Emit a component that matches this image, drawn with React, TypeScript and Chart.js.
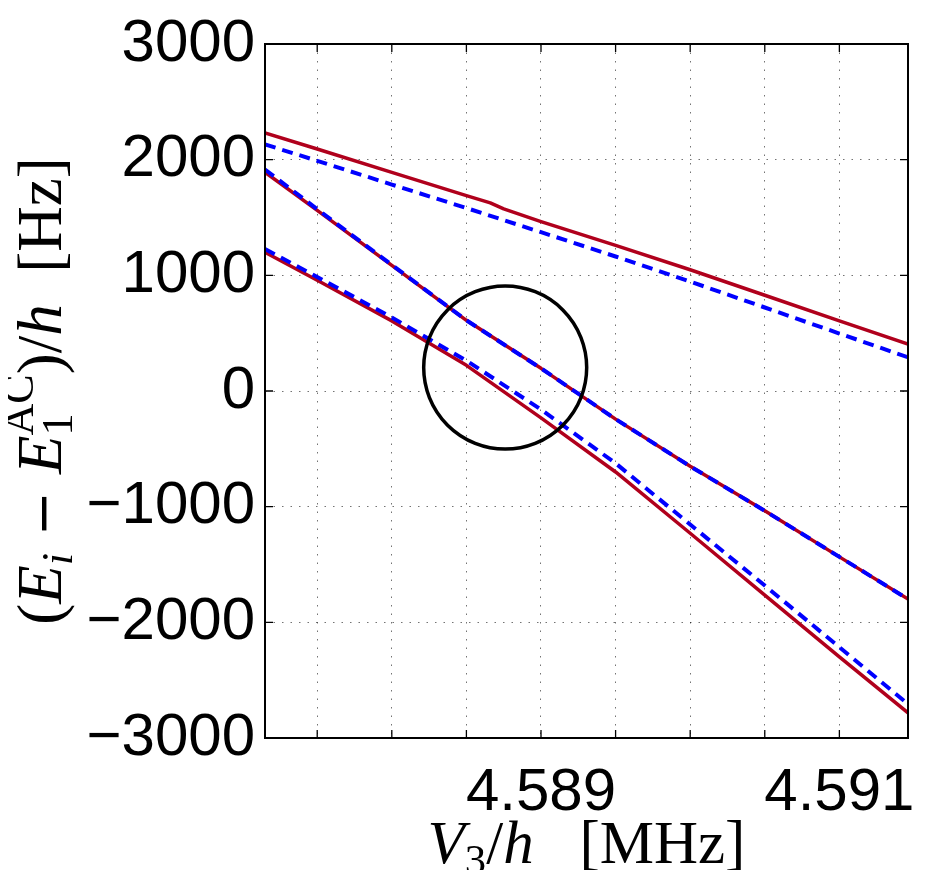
import { useEffect, useRef } from 'react';
import { Chart, registerables } from 'chart.js';

Chart.register(...registerables);

// Coupling V3/h in MHz at which the level energies were evaluated
const V3_MHZ = [4.58715, 4.5875, 4.588, 4.5885, 4.589, 4.5895, 4.59, 4.5905, 4.591, 4.59146];
// the upper exact level carries a small step near 4.5887 MHz
const V3_MHZ_UPPER = [4.58715, 4.5875, 4.588, 4.5885, 4.58866, 4.58875, 4.589, 4.5895, 4.59, 4.5905, 4.591, 4.59146];

// exact (numerical) level energies relative to E1^AC, in Hz
const UPPER_EXACT = [2232, 2092, 1890, 1689, 1626, 1574, 1465, 1259, 1048, 828, 606, 405];
const MIDDLE_EXACT = [1891, 1561, 1086, 611, 196, -243, -651, -1036, -1434, -1799];
const LOWER_EXACT = [1199, 957, 606, 222, -232, -700, -1230, -1765, -2299, -2782];

// perturbative approximation of the same levels, in Hz
const UPPER_APPROX = [2132, 1990, 1785, 1582, 1373, 1163, 946, 722, 497, 291];
const MIDDLE_APPROX = [1915, 1572, 1090, 611, 196, -243, -651, -1036, -1434, -1799];
const LOWER_APPROX = [1228, 986, 636, 263, -160, -625, -1154, -1682, -2215, -2706];

// marked avoided crossing
const CROSSING_V3 = [4.58876];
const CROSSING_E = [203];

// axis ticks
const X_MIN = 4.58715;
const X_MAX = 4.59146;
const X_GRID = [4.5875, 4.588, 4.5885, 4.589, 4.5895, 4.59, 4.5905, 4.591];
const X_LABELED = [4.589, 4.591];
const Y_TICKS = [-3000, -2000, -1000, 0, 1000, 2000, 3000];

const EXACT_COLOR = 'rgb(176, 0, 28)';
const APPROX_COLOR = 'rgb(0, 0, 255)';
const SANS = '"Liberation Sans", Arial, Helvetica, sans-serif';
const SERIF = '"Liberation Serif", "Times New Roman", serif';

type Piece = {
  text: string;
  italic?: boolean;
  script?: 'sub' | 'sup';
  overlap?: boolean;
  family?: string;
  scale?: number;
};

const Y_TITLE: Piece[] = [
  { text: '(' },
  { text: 'E', italic: true },
  { text: 'i', italic: true, script: 'sub' },
  { text: ' \u2212 ', family: '"DejaVu Sans", sans-serif', scale: 0.85 },
  { text: 'E', italic: true },
  { text: '1', script: 'sub' },
  { text: 'AC', script: 'sup', overlap: true },
  { text: ')/' },
  { text: 'h', italic: true },
  { text: '  [Hz]' },
];

const X_TITLE: Piece[] = [
  { text: 'V', italic: true },
  { text: '3', script: 'sub' },
  { text: '/' },
  { text: 'h', italic: true },
  { text: '   [MHz]' },
];

const pts = (xs: number[], ys: number[]) => xs.map((x, i) => ({ x, y: ys[i] }));

function fontFor(size: number, p: Piece) {
  const s = (p.script ? size * 0.7 : size) * (p.scale ?? 1);
  return `${p.italic ? 'italic ' : ''}${s}px ${p.family ?? SERIF}`;
}

// lays out pieces of math-like text along a baseline, centred on cx
function drawRich(ctx: CanvasRenderingContext2D, pieces: Piece[], size: number, cx: number, baseY: number) {
  const layout: { p: Piece; x: number }[] = [];
  let x = 0;
  let lastStart = 0;
  let lastW = 0;
  for (const p of pieces) {
    ctx.font = fontFor(size, p);
    const w = ctx.measureText(p.text).width;
    if (p.overlap) {
      layout.push({ p, x: lastStart });
      const adv = Math.max(lastW, w);
      x = lastStart + adv;
      lastW = adv;
    } else {
      layout.push({ p, x });
      lastStart = x;
      lastW = w;
      x += w;
    }
  }
  const x0 = cx - x / 2;
  ctx.fillStyle = '#000';
  ctx.textAlign = 'left';
  ctx.textBaseline = 'alphabetic';
  for (const { p, x: px } of layout) {
    ctx.font = fontFor(size, p);
    let dy = 0;
    if (p.script === 'sub') dy = size * 0.18;
    if (p.script === 'sup') dy = -size * 0.44;
    ctx.fillText(p.text, x0 + px, baseY + dy);
  }
}

const framePlugin = {
  id: 'frameAndTitles',
  afterDraw(chart: any) {
    const { ctx, chartArea: a, scales } = chart;
    ctx.save();
    // inward tick marks on all four sides
    ctx.strokeStyle = '#000';
    ctx.lineWidth = 1.3;
    ctx.setLineDash([]);
    const len = 8;
    ctx.beginPath();
    for (const t of scales.x.ticks) {
      const px = scales.x.getPixelForValue(t.value);
      ctx.moveTo(px, a.bottom);
      ctx.lineTo(px, a.bottom - len);
      ctx.moveTo(px, a.top);
      ctx.lineTo(px, a.top + len);
    }
    for (const t of scales.y.ticks) {
      const py = scales.y.getPixelForValue(t.value);
      ctx.moveTo(a.left, py);
      ctx.lineTo(a.left + len, py);
      ctx.moveTo(a.right, py);
      ctx.lineTo(a.right - len, py);
    }
    ctx.stroke();
    // axes box
    ctx.lineWidth = 2;
    ctx.strokeRect(a.left, a.top, a.right - a.left, a.bottom - a.top);

    // axis titles
    drawRich(ctx, X_TITLE, 61, (a.left + a.right) / 2, 855);
    ctx.translate(53, (a.top + a.bottom) / 2);
    ctx.rotate(-Math.PI / 2);
    drawRich(ctx, Y_TITLE, 63, 0, 0);
    ctx.restore();
  },
};

export default function App() {
  const ref = useRef<HTMLCanvasElement>(null);

  useEffect(() => {
    const canvas = ref.current;
    if (!canvas) return;

    const exact = (label: string, xs: number[], ys: number[]) => ({
      type: 'line' as const,
      label,
      data: pts(xs, ys),
      borderColor: EXACT_COLOR,
      borderWidth: 3.5,
      borderJoinStyle: 'round' as const,
      pointRadius: 0,
      tension: 0,
      fill: false,
      order: 2,
    });
    const approx = (label: string, xs: number[], ys: number[]) => ({
      type: 'line' as const,
      label,
      data: pts(xs, ys),
      borderColor: APPROX_COLOR,
      borderWidth: 4,
      borderDash: [11, 7],
      borderCapStyle: 'butt' as const,
      pointRadius: 0,
      tension: 0,
      fill: false,
      order: 1,
    });

    const chart = new Chart(canvas, {
      type: 'line',
      data: {
        datasets: [
          {
            type: 'scatter',
            label: 'avoided crossing',
            data: pts(CROSSING_V3, CROSSING_E),
            pointRadius: 81.5,
            pointBorderWidth: 3.5,
            pointBorderColor: '#000',
            pointBackgroundColor: 'rgba(0,0,0,0)',
            order: 0,
          } as any,
          approx('upper (approx.)', V3_MHZ, UPPER_APPROX),
          approx('middle (approx.)', V3_MHZ, MIDDLE_APPROX),
          approx('lower (approx.)', V3_MHZ, LOWER_APPROX),
          exact('upper (exact)', V3_MHZ_UPPER, UPPER_EXACT),
          exact('middle (exact)', V3_MHZ, MIDDLE_EXACT),
          exact('lower (exact)', V3_MHZ, LOWER_EXACT),
        ],
      },
      options: {
        responsive: false,
        animation: false,
        events: [],
        layout: { autoPadding: false, padding: { top: 36, right: 12, left: 0, bottom: 0 } },
        plugins: { legend: { display: false }, tooltip: { enabled: false } },
        scales: {
          x: {
            type: 'linear',
            min: X_MIN,
            max: X_MAX,
            afterBuildTicks: (scale: any) => {
              scale.ticks = X_GRID.map((v) => ({ value: v }));
            },
            afterFit: (scale: any) => {
              scale.height = 132;
              scale.paddingLeft = 0;
              scale.paddingRight = 0;
            },
            ticks: {
              autoSkip: false,
              maxRotation: 0,
              minRotation: 0,
              padding: 19,
              color: '#000',
              font: { family: SANS, size: 60 },
              callback: (v: any) => {
                const n = Number(v);
                return X_LABELED.some((l) => Math.abs(l - n) < 1e-9) ? n.toFixed(3) : '';
              },
            },
            grid: { color: 'rgba(0,0,0,0.55)', lineWidth: 1, drawTicks: false },
            border: { display: false, dash: [1.5, 7] },
          },
          y: {
            type: 'linear',
            min: -3000,
            max: 3000,
            afterBuildTicks: (scale: any) => {
              scale.ticks = Y_TICKS.map((v) => ({ value: v }));
            },
            afterFit: (scale: any) => {
              scale.width = 257;
              scale.paddingTop = 0;
              scale.paddingBottom = 0;
            },
            ticks: {
              padding: 10,
              color: '#000',
              font: { family: SANS, size: 60 },
              callback: (v: any) => {
                const n = Number(v);
                return n < 0 ? '\u2212' + Math.abs(n) : String(n);
              },
            },
            grid: { color: 'rgba(0,0,0,0.55)', lineWidth: 1, drawTicks: false },
            border: { display: false, dash: [1.5, 7] },
          },
        },
      },
      plugins: [framePlugin],
    });

    return () => chart.destroy();
  }, []);

  return <canvas ref={ref} width={912} height={862} style={{ display: 'block' }} />;
}
